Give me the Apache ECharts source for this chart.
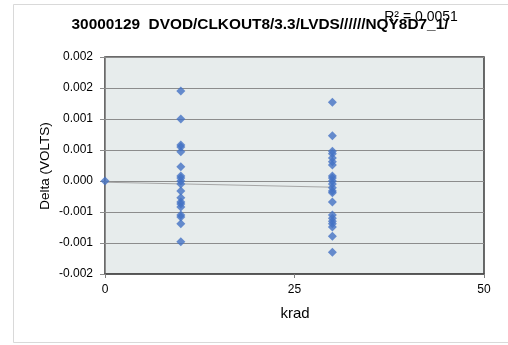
<!DOCTYPE html>
<html>
<head>
<meta charset="utf-8">
<script src="https://cdn.jsdelivr.net/npm/echarts@6/dist/echarts.min.js"></script>
<style>html,body{margin:0;padding:0;background:#fff}#c{width:508px;height:345px}</style>
</head>
<body>
<div id="c"></div>
<script>
const titleText = '30000129  DVOD/CLKOUT8/3.3/LVDS//////NQY8D7_1/';
const r2Text = 'R² = 0.0051';
const xAxisName = 'krad';
const yAxisName = 'Delta (VOLTS)';
const xTicks = [0, 25, 50];
const yTickLabels = ['-0.002', '-0.001', '-0.001', '0.000', '0.001', '0.001', '0.002', '0.002'];
const yMin = -0.0015, yMax = 0.002, yStep = 0.0005;

const x0Values = [0];
const x10Values = [0.00145, 0.001, 0.00058, 0.00055, 0.00047, 0.00023, 0.00008, 0.00005, 0, -0.00005,
  -0.00016, -0.00027, -0.00034, -0.00037, -0.00042, -0.00055, -0.00058, -0.00069, -0.00098];
const x30Values = [0.00127, 0.00073, 0.00048, 0.00044, 0.00037, 0.00031, 0.00026, 0.00008, 0.00005, 0,
  -0.00005, -0.00011, -0.00016, -0.00019, -0.00034, -0.00055, -0.0006, -0.00065, -0.00069, -0.00074,
  -0.00089, -0.00115];
const trendX = [0, 30];
const trendY = [-0.00002, -0.0001];

const points = [];
x0Values.forEach(v => points.push([0, v]));
x10Values.forEach(v => points.push([10, v]));
x30Values.forEach(v => points.push([30, v]));
const trend = trendX.map((x, i) => [x, trendY[i]]);

const chart = echarts.init(document.getElementById('c'), null, {renderer: 'canvas'});
chart.setOption({
  animation: false,
  backgroundColor: '#fff',
  textStyle: {fontFamily: 'Liberation Sans'},
  graphic: [
    {type: 'rect', shape: {x: 13.5, y: 4.5, width: 510, height: 338}, style: {fill: 'none', stroke: '#d9d9d9', lineWidth: 1}, z: -10},
    {type: 'text', x: 260, y: 25, style: {text: titleText, font: 'bold 15.4px "Liberation Sans"', fill: '#000', align: 'center', verticalAlign: 'middle'}},
    {type: 'text', x: 421, y: 17, style: {text: r2Text, font: '14px "Liberation Sans"', fill: '#000', align: 'center', verticalAlign: 'middle'}},
    {type: 'text', x: 295, y: 314, style: {text: xAxisName, font: '15px "Liberation Sans"', fill: '#000', align: 'center', verticalAlign: 'middle'}},
    {type: 'text', x: 45, y: 166, rotation: Math.PI / 2, style: {text: yAxisName, font: '13.5px "Liberation Sans"', fill: '#000', align: 'center', verticalAlign: 'middle'}}
  ],
  grid: {left: 105, right: 24, top: 57, bottom: 71, show: true, backgroundColor: '#e7ecec', borderColor: '#3a3a3a', borderWidth: 1.5},
  xAxis: {
    type: 'value', min: xTicks[0], max: xTicks[xTicks.length - 1], interval: xTicks[1] - xTicks[0],
    axisLine: {show: true, onZero: false, lineStyle: {color: '#4d4d4d', width: 1.5}},
    axisTick: {show: true, length: 4, lineStyle: {color: '#7f7f7f'}},
    axisLabel: {color: '#000', fontSize: 12, margin: 10},
    splitLine: {show: false}
  },
  yAxis: {
    type: 'value', min: yMin, max: yMax, interval: yStep,
    axisLine: {show: true, onZero: false, lineStyle: {color: '#8c8c8c', width: 1}},
    axisTick: {show: true, length: 5, lineStyle: {color: '#8c8c8c'}},
    axisLabel: {color: '#000', fontSize: 12, margin: 12,
      formatter: v => yTickLabels[Math.round((v - yMin) / yStep)]},
    splitLine: {show: true, lineStyle: {color: '#8c8c8c', width: 1}}
  },
  series: [
    {type: 'line', data: trend, symbol: 'none', lineStyle: {color: '#a6a6a6', width: 1}, z: 1, silent: true},
    {type: 'scatter', data: points, symbol: 'diamond', symbolSize: [9, 9], itemStyle: {color: '#4472c4'}, z: 2}
  ]
});
</script>
</body>
</html>
